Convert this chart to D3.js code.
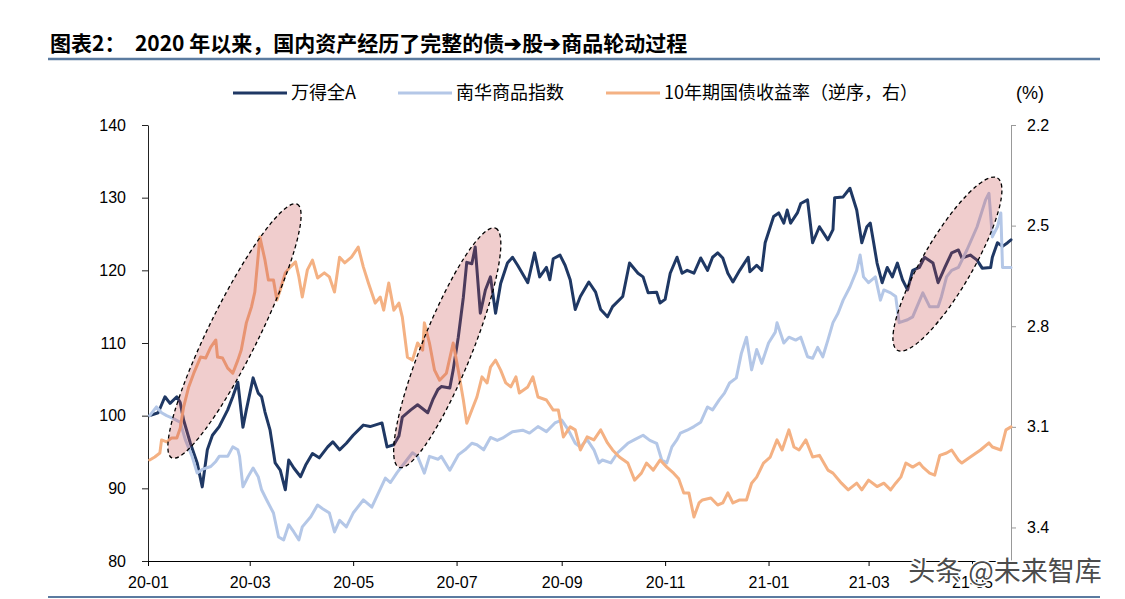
<!DOCTYPE html>
<html>
<head>
<meta charset="utf-8">
<script src="https://cdn.jsdelivr.net/npm/d3@7"></script>
<style>
  html, body { margin: 0; padding: 0; background: #fff; }
  svg { display: block; }
</style>
</head>
<body>
<svg id="chart" width="1125" height="599"></svg>
<script>
// 万得全A (left axis)
const windA = [
  ["2020-01-02",100],["2020-01-07",100.4],["2020-01-11",102.6],["2020-01-14",101.7],["2020-01-18",102.6],
  ["2020-01-20",101.8],["2020-01-22",99.4],["2020-01-26",96.2],["2020-01-30",93.5],["2020-02-02",90.2],
  ["2020-02-05",95.3],["2020-02-08",97.3],["2020-02-12",98.5],["2020-02-17",100.8],["2020-02-20",102.6],
  ["2020-02-23",104.6],["2020-02-26",98.4],["2020-02-28",100.8],["2020-03-03",105.2],["2020-03-06",103.1],
  ["2020-03-08",102.6],["2020-03-10",100.5],["2020-03-13",98.0],["2020-03-16",93.5],["2020-03-19",92.5],
  ["2020-03-22",89.8],["2020-03-24",93.9],["2020-03-27",92.8],["2020-03-31",91.6],["2020-04-03",93.2],
  ["2020-04-07",94.8],["2020-04-11",94.2],["2020-04-16",95.7],["2020-04-19",96.4],["2020-04-23",95.3],
  ["2020-04-27",96.2],["2020-05-01",97.3],["2020-05-07",98.7],["2020-05-11",98.5],["2020-05-18",99.0],
  ["2020-05-21",95.7],["2020-05-25",96.0],["2020-05-28",97.2],["2020-05-30",99.8],["2020-06-04",100.8],
  ["2020-06-08",101.5],["2020-06-14",100.4],["2020-06-17",102.2],["2020-06-20",103.6],["2020-06-22",104.0],
  ["2020-06-27",103.8],["2020-06-29",106.3],["2020-07-02",110.8],["2020-07-05",116.3],["2020-07-07",121.1],
  ["2020-07-10",120.9],["2020-07-12",123.2],["2020-07-15",114.1],["2020-07-18",117.3],["2020-07-21",119.1],
  ["2020-07-24",114.1],["2020-07-27",118.2],["2020-07-31",121.0],["2020-08-03",121.8],["2020-08-06",120.7],
  ["2020-08-12",118.3],["2020-08-16",122.4],["2020-08-19",119.1],["2020-08-23",120.4],["2020-08-25",118.7],
  ["2020-08-27",121.6],["2020-08-31",122.1],["2020-09-03",120.7],["2020-09-06",118.7],["2020-09-09",114.6],
  ["2020-09-12",116.4],["2020-09-17",118.4],["2020-09-21",117.0],["2020-09-24",114.6],["2020-09-28",113.6],
  ["2020-10-01",115.0],["2020-10-07",116.4],["2020-10-11",121.0],["2020-10-16",119.6],["2020-10-19",119.1],
  ["2020-10-22",116.9],["2020-10-27",117.0],["2020-10-29",115.5],["2020-11-01",116.0],["2020-11-04",119.6],
  ["2020-11-08",121.8],["2020-11-11",119.6],["2020-11-14",120.0],["2020-11-18",119.6],["2020-11-22",121.7],
  ["2020-11-26",120.0],["2020-11-29",121.8],["2020-12-02",122.4],["2020-12-05",121.7],["2020-12-08",119.6],
  ["2020-12-11",118.4],["2020-12-15",120.0],["2020-12-20",121.8],["2020-12-21",119.8],["2020-12-25",120.7],
  ["2020-12-28",120.0],["2020-12-30",123.8],["2021-01-04",127.4],["2021-01-07",127.9],["2021-01-10",126.5],
  ["2021-01-12",128.3],["2021-01-14",126.5],["2021-01-18",127.9],["2021-01-20",129.2],["2021-01-24",129.7],
  ["2021-01-27",123.8],["2021-01-31",126.0],["2021-02-05",124.2],["2021-02-08",125.6],["2021-02-09",130.0],
  ["2021-02-14",130.1],["2021-02-18",131.3],["2021-02-22",128.3],["2021-02-25",123.8],["2021-02-28",126.0],
  ["2021-03-02",126.5],["2021-03-04",123.8],["2021-03-06",121.0],["2021-03-09",118.3],["2021-03-12",120.4],
  ["2021-03-15",119.1],["2021-03-18",121.0],["2021-03-21",118.7],["2021-03-24",117.3],["2021-03-27",120.0],
  ["2021-03-31",120.4],["2021-04-03",121.8],["2021-04-08",121.0],["2021-04-11",118.3],["2021-04-15",120.4],
  ["2021-04-19",122.4],["2021-04-23",122.8],["2021-04-25",121.7],["2021-04-30",122.1],["2021-05-04",121.4],
  ["2021-05-07",120.3],["2021-05-12",120.4],["2021-05-13",121.8],["2021-05-16",123.8],["2021-05-19",123.3],
  ["2021-05-22",123.8],["2021-05-24",124.2]
];

// 南华商品指数 (left axis)
const nanhua = [
  ["2020-01-02",100],["2020-01-06",101.2],["2020-01-09",100.4],["2020-01-12",100.0],["2020-01-16",99.6],
  ["2020-01-20",99.1],["2020-01-23",96.7],["2020-01-27",94.4],["2020-01-30",92.1],["2020-02-02",92.6],
  ["2020-02-07",93.0],["2020-02-10",93.7],["2020-02-12",94.4],["2020-02-17",94.4],["2020-02-20",95.7],
  ["2020-02-23",95.3],["2020-02-24",94.4],["2020-02-26",90.2],["2020-02-29",91.6],["2020-03-03",92.8],
  ["2020-03-06",91.6],["2020-03-08",89.8],["2020-03-11",88.4],["2020-03-15",86.6],["2020-03-18",83.3],
  ["2020-03-21",82.9],["2020-03-24",85.0],["2020-03-27",84.0],["2020-03-30",82.9],["2020-04-01",84.7],
  ["2020-04-06",86.1],["2020-04-10",87.7],["2020-04-13",87.2],["2020-04-17",86.6],["2020-04-20",84.0],
  ["2020-04-23",85.6],["2020-04-27",84.7],["2020-05-01",86.6],["2020-05-07",88.4],["2020-05-12",87.4],
  ["2020-05-16",89.4],["2020-05-20",91.4],["2020-05-23",90.8],["2020-05-27",92.2],["2020-06-02",94.0],
  ["2020-06-05",94.9],["2020-06-08",94.4],["2020-06-12",92.1],["2020-06-15",94.4],["2020-06-20",94.0],
  ["2020-06-22",94.4],["2020-06-27",92.5],["2020-07-02",94.6],["2020-07-06",95.3],["2020-07-10",96.2],
  ["2020-07-13",96.0],["2020-07-17",95.3],["2020-07-21",97.0],["2020-07-25",96.6],["2020-07-28",96.9],
  ["2020-08-03",97.8],["2020-08-09",98.0],["2020-08-13",97.6],["2020-08-18",98.5],["2020-08-23",97.8],
  ["2020-08-28",99.0],["2020-09-01",99.4],["2020-09-05",98.0],["2020-09-09",96.2],["2020-09-12",95.7],
  ["2020-09-16",96.7],["2020-09-20",95.3],["2020-09-23",93.5],["2020-09-25",93.9],["2020-09-30",93.5],
  ["2020-10-04",94.9],["2020-10-10",96.2],["2020-10-14",96.7],["2020-10-19",97.3],["2020-10-23",96.6],
  ["2020-10-27",96.2],["2020-10-30",93.9],["2020-11-02",93.5],["2020-11-05",95.7],["2020-11-08",96.7],
  ["2020-11-10",97.6],["2020-11-14",98.0],["2020-11-18",98.5],["2020-11-22",99.1],["2020-11-26",101.2],
  ["2020-11-29",100.8],["2020-12-03",102.2],["2020-12-06",103.1],["2020-12-09",104.5],["2020-12-13",105.2],
  ["2020-12-16",108.6],["2020-12-19",110.8],["2020-12-22",106.3],["2020-12-25",109.1],["2020-12-28",107.2],
  ["2021-01-01",110.0],["2021-01-05",111.5],["2021-01-06",112.8],["2021-01-10",110.0],["2021-01-13",110.8],
  ["2021-01-17",110.4],["2021-01-20",110.8],["2021-01-24",108.1],["2021-01-27",107.9],["2021-01-30",109.4],
  ["2021-02-02",108.1],["2021-02-05",110.4],["2021-02-08",112.8],["2021-02-11",114.1],["2021-02-14",115.9],
  ["2021-02-18",117.7],["2021-02-22",120.0],["2021-02-24",122.1],["2021-02-26",119.1],["2021-03-01",118.3],
  ["2021-03-05",119.1],["2021-03-08",115.9],["2021-03-10",117.3],["2021-03-14",116.9],["2021-03-17",116.4],
  ["2021-03-19",112.8],["2021-03-24",113.2],["2021-03-27",113.6],["2021-04-02",116.9],["2021-04-06",115.0],
  ["2021-04-11",115.0],["2021-04-13",116.4],["2021-04-16",119.1],["2021-04-19",120.0],["2021-04-23",120.4],
  ["2021-04-28",122.8],["2021-05-04",126.0],["2021-05-09",129.7],["2021-05-11",130.6],["2021-05-13",124.6],
  ["2021-05-16",126.0],["2021-05-18",127.9],["2021-05-19",120.4],["2021-05-24",120.4]
];

// 10年期国债收益率 (%, right axis, reversed)
const bond10y = [
  ["2020-01-02",3.199],["2020-01-05",3.19],["2020-01-08",3.178],["2020-01-09",3.139],["2020-01-12",3.145],
  ["2020-01-15",3.133],["2020-01-18",3.133],["2020-01-20",3.104],["2020-01-22",3.041],["2020-01-25",2.981],
  ["2020-01-28",2.94],["2020-02-01",2.892],["2020-02-04",2.895],["2020-02-07",2.862],["2020-02-10",2.841],
  ["2020-02-11",2.892],["2020-02-14",2.895],["2020-02-17",2.925],["2020-02-20",2.94],["2020-02-23",2.901],
  ["2020-02-25",2.871],["2020-02-28",2.79],["2020-03-02",2.743],["2020-03-04",2.698],["2020-03-07",2.534],
  ["2020-03-10",2.603],["2020-03-12",2.662],["2020-03-15",2.662],["2020-03-17",2.722],["2020-03-19",2.692],
  ["2020-03-22",2.641],["2020-03-25",2.623],["2020-03-28",2.608],["2020-03-30",2.653],["2020-04-01",2.713],
  ["2020-04-04",2.632],["2020-04-07",2.603],["2020-04-10",2.656],["2020-04-14",2.641],["2020-04-17",2.653],
  ["2020-04-20",2.698],["2020-04-23",2.594],["2020-04-26",2.611],["2020-04-30",2.594],["2020-05-04",2.564],
  ["2020-05-07",2.623],["2020-05-10",2.671],["2020-05-14",2.731],["2020-05-17",2.713],["2020-05-19",2.752],
  ["2020-05-22",2.671],["2020-05-25",2.752],["2020-05-28",2.731],["2020-05-30",2.773],["2020-06-02",2.892],
  ["2020-06-05",2.901],["2020-06-08",2.85],["2020-06-11",2.871],["2020-06-12",2.79],["2020-06-15",2.85],
  ["2020-06-18",2.931],["2020-06-21",2.961],["2020-06-25",2.94],["2020-06-29",2.85],["2020-07-02",2.931],
  ["2020-07-05",3.02],["2020-07-07",3.089],["2020-07-10",3.05],["2020-07-13",3.011],["2020-07-16",2.951],
  ["2020-07-19",2.969],["2020-07-21",2.922],["2020-07-24",2.901],["2020-07-27",2.931],["2020-07-30",2.969],
  ["2020-08-02",2.981],["2020-08-05",2.951],["2020-08-07",2.999],["2020-08-12",2.981],["2020-08-15",2.951],
  ["2020-08-18",3.011],["2020-08-23",3.02],["2020-08-27",3.05],["2020-08-30",3.05],["2020-09-02",3.13],
  ["2020-09-06",3.1],["2020-09-09",3.109],["2020-09-12",3.169],["2020-09-16",3.13],["2020-09-20",3.139],
  ["2020-09-24",3.109],["2020-09-28",3.148],["2020-10-01",3.169],["2020-10-05",3.19],["2020-10-10",3.208],
  ["2020-10-14",3.259],["2020-10-18",3.238],["2020-10-21",3.208],["2020-10-25",3.229],["2020-10-29",3.199],
  ["2020-11-02",3.22],["2020-11-06",3.238],["2020-11-09",3.255],["2020-11-12",3.297],["2020-11-15",3.297],
  ["2020-11-18",3.369],["2020-11-21",3.327],["2020-11-23",3.318],["2020-11-28",3.312],["2020-12-02",3.333],
  ["2020-12-05",3.327],["2020-12-08",3.297],["2020-12-11",3.327],["2020-12-15",3.318],["2020-12-19",3.318],
  ["2020-12-22",3.268],["2020-12-25",3.25],["2020-12-29",3.208],["2021-01-02",3.19],["2021-01-06",3.139],
  ["2021-01-09",3.169],["2021-01-13",3.109],["2021-01-16",3.16],["2021-01-19",3.169],["2021-01-23",3.139],
  ["2021-01-27",3.19],["2021-01-31",3.185],["2021-02-05",3.229],["2021-02-08",3.238],["2021-02-13",3.268],
  ["2021-02-17",3.288],["2021-02-22",3.268],["2021-02-25",3.288],["2021-03-01",3.259],["2021-03-06",3.278],
  ["2021-03-10",3.268],["2021-03-14",3.288],["2021-03-17",3.268],["2021-03-20",3.25],["2021-03-23",3.208],
  ["2021-03-27",3.22],["2021-03-31",3.208],["2021-04-02",3.22],["2021-04-06",3.238],["2021-04-09",3.244],
  ["2021-04-12",3.185],["2021-04-16",3.178],["2021-04-19",3.169],["2021-04-23",3.199],["2021-04-25",3.208],
  ["2021-04-30",3.19],["2021-05-06",3.169],["2021-05-11",3.148],["2021-05-13",3.16],["2021-05-18",3.169],
  ["2021-05-21",3.109],["2021-05-24",3.1]
];

// highlighted rotation phases: major-axis ends in (date, left-axis value)
const highlightFrom = [["2020-01-15",94.2],["2020-05-28",92.9],["2021-03-18",109.0]];
const highlightTo   = [["2020-03-29",129.1],["2020-07-24",125.8],["2021-05-16",132.7]];

const seriesNames = ["万得全A", "南华商品指数", "10年期国债收益率（逆序，右）"];
const leftTicks = [80, 90, 100, 110, 120, 130, 140];
const rightTicks = [2.2, 2.5, 2.8, 3.1, 3.4];
const dateRange = ["2020-01-01", "2021-05-24"];

const titleText = "图表2：  2020 年以来，国内资产经历了完整的债➔股➔商品轮动过程";
const watermark = "头条 @未来智库";

const COLORS = { wind: "#1f3864", nanhua: "#b4c7e7", bond: "#f4b183" };
const parse = d3.timeParse("%Y-%m-%d");
const CJK = "'Noto Sans CJK SC', 'Noto Sans', sans-serif";
const LAT = "'Liberation Sans', Arial, sans-serif";

const svg = d3.select('#chart');
const plot = { left: 148, right: 1011, top: 125, bottom: 561 };

const x = d3.scaleTime()
    .domain(dateRange.map(parse))
    .range([plot.left, plot.right]);
const yL = d3.scaleLinear().domain([80, 140]).range([plot.bottom, plot.top]);
const yR = d3.scaleLinear().domain([2.2, 3.5]).range([plot.top, plot.bottom]);

// Title + rules
svg.append('text')
    .attr('x', 50).attr('y', 51)
    .style('font-family', CJK).style('font-size', '21px').style('font-weight', '700')
    .style('white-space', 'pre')
    .attr('fill', '#000')
    .text(titleText);
svg.append('line').attr('x1', 48).attr('x2', 1100).attr('y1', 59).attr('y2', 59)
    .attr('stroke', '#5b7ba0').attr('stroke-width', 2.5);
svg.append('line').attr('x1', 48).attr('x2', 1100).attr('y1', 597).attr('y2', 597)
    .attr('stroke', '#5b7ba0').attr('stroke-width', 2);

// Axes
const axL = svg.append('g').attr('transform', `translate(${plot.left},0)`)
    .call(d3.axisLeft(yL).tickValues(leftTicks).tickSize(6).tickPadding(16).tickSizeOuter(0));
const axR = svg.append('g').attr('transform', `translate(${plot.right},0)`)
    .call(d3.axisRight(yR).tickValues(rightTicks).tickSize(5).tickPadding(11).tickSizeOuter(0)
        .tickFormat(d3.format('.1f')));
const axB = svg.append('g').attr('transform', `translate(0,${plot.bottom})`)
    .call(d3.axisBottom(x).ticks(d3.timeMonth.every(2)).tickSize(5).tickPadding(11)
        .tickSizeOuter(0).tickFormat(d3.timeFormat('%y-%m')));

[axL, axR, axB].forEach(g => {
    g.selectAll('text').style('font-family', LAT).style('font-size', '16px').attr('fill', '#000');
});
axL.select('.domain').attr('stroke', '#222');
axL.selectAll('.tick line').attr('stroke', '#222');
axR.select('.domain').attr('stroke', '#999');
axR.selectAll('.tick line').attr('stroke', '#999');
axB.select('.domain').attr('stroke', '#000');
axB.selectAll('.tick line').attr('stroke', '#000');

// Lines
const lineL = d3.line().x(d => x(parse(d[0]))).y(d => yL(d[1])).curve(d3.curveLinear);
const lineR = d3.line().x(d => x(parse(d[0]))).y(d => yR(d[1])).curve(d3.curveLinear);

const lines = svg.append('g').attr('fill', 'none').attr('stroke-width', 3)
    .attr('stroke-linejoin', 'round').attr('stroke-linecap', 'round');
lines.append('path').datum(windA).attr('stroke', COLORS.wind).attr('d', lineL);
lines.append('path').datum(nanhua).attr('stroke', COLORS.nanhua).attr('d', lineL);
lines.append('path').datum(bond10y).attr('stroke', COLORS.bond).attr('d', lineR);

// Highlight ellipses (translucent, on top of the lines)
const hl = svg.append('g');
highlightFrom.forEach((from, i) => {
    const to = highlightTo[i];
    const x1 = x(parse(from[0])), y1 = yL(from[1]);
    const x2 = x(parse(to[0])), y2 = yL(to[1]);
    const cx = (x1 + x2) / 2, cy = (y1 + y2) / 2;
    const rx = Math.hypot(x2 - x1, y2 - y1) / 2;
    const ang = Math.atan2(y2 - y1, x2 - x1) * 180 / Math.PI;
    hl.append('ellipse')
        .attr('cx', cx).attr('cy', cy).attr('rx', rx).attr('ry', 25)
        .attr('transform', `rotate(${ang},${cx},${cy})`)
        .attr('fill', 'rgba(200,70,70,0.27)')
        .attr('stroke', '#000').attr('stroke-width', 1.3)
        .attr('stroke-dasharray', '4,3');
});

// Legend
const legendX = [233, 398, 606];
const legendColors = [COLORS.wind, COLORS.nanhua, COLORS.bond];
const legend = svg.append('g');
seriesNames.forEach((name, i) => {
    legend.append('line')
        .attr('x1', legendX[i]).attr('x2', legendX[i] + 54)
        .attr('y1', 93).attr('y2', 93)
        .attr('stroke', legendColors[i]).attr('stroke-width', 3);
    legend.append('text')
        .attr('x', legendX[i] + 58).attr('y', 99)
        .style('font-family', CJK).style('font-size', '18px')
        .attr('fill', '#000')
        .text(name);
});
svg.append('text')
    .attr('x', 1030).attr('y', 99).attr('text-anchor', 'middle')
    .style('font-family', LAT).style('font-size', '18px')
    .text('(%)');

// Watermark (sits over the last date label, as in the source image)
svg.append('text')
    .attr('x', 1005).attr('y', 581).attr('text-anchor', 'middle')
    .style('font-family', CJK).style('font-size', '27px')
    .attr('fill', '#333').attr('fill-opacity', 0.9)
    .attr('stroke', '#fff').attr('stroke-width', 3).attr('paint-order', 'stroke')
    .text(watermark);
</script>
</body>
</html>
